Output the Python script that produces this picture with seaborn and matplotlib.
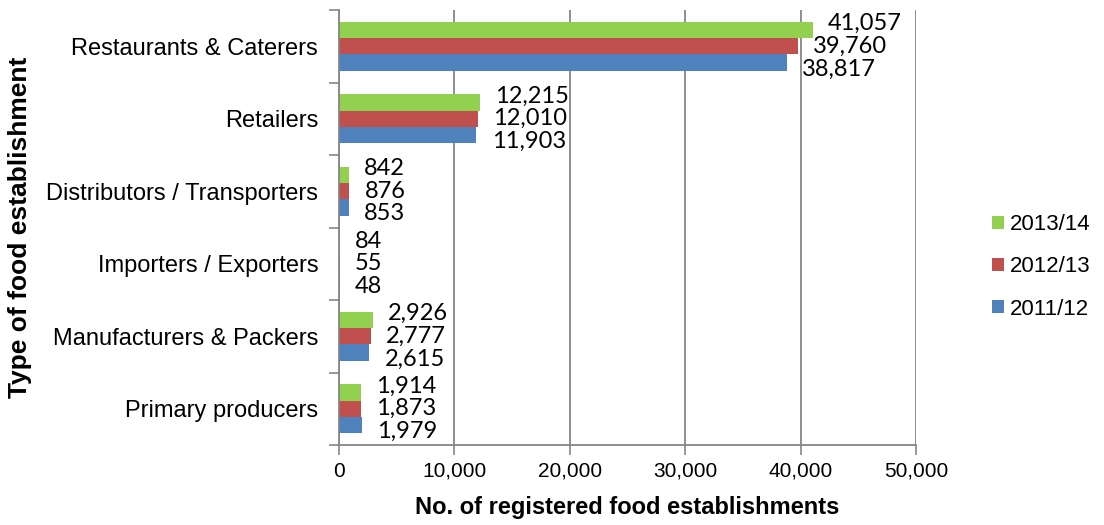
import matplotlib
matplotlib.use("Agg")
import matplotlib.pyplot as plt
import seaborn as sns
import pandas as pd
from matplotlib.ticker import FixedLocator

# data
categories = [
    "Restaurants & Caterers",
    "Retailers",
    "Distributors / Transporters",
    "Importers / Exporters",
    "Manufacturers & Packers",
    "Primary producers",
]
years = ["2013/14", "2012/13", "2011/12"]
y2013_14 = [41057, 12215, 842, 84, 2926, 1914]
y2012_13 = [39760, 12010, 876, 55, 2777, 1873]
y2011_12 = [38817, 11903, 853, 48, 2615, 1979]
xticks = [0, 10000, 20000, 30000, 40000, 50000]

colors = {"2013/14": "#92D050", "2012/13": "#C0504D", "2011/12": "#4F81BD"}

df = pd.DataFrame({
    "type": categories * 3,
    "year": [y for y in years for _ in categories],
    "count": y2013_14 + y2012_13 + y2011_12,
})

sns.set_style("white")
plt.rcParams["font.family"] = ["Liberation Sans", "DejaVu Sans"]
plt.rcParams["text.color"] = "black"
plt.rcParams["axes.labelcolor"] = "black"
grey = "#868686"

fig = plt.figure(figsize=(11.04, 5.25), dpi=100)
ax = fig.add_axes([339 / 1104, 1 - 445 / 525, 577 / 1104, 435 / 525])

sns.barplot(data=df, x="count", y="type", hue="year", hue_order=years,
            order=categories, palette=colors, orient="h", width=0.68,
            ax=ax, saturation=1, linewidth=0)

ax.set_xlim(0, 50000)
ax.set_ylim(5.5, -0.5)
ax.xaxis.set_major_locator(FixedLocator(xticks))
ax.set_xticklabels([f"{t:,}" for t in xticks], fontsize=15)
ax.tick_params(axis="x", length=7, width=1.2, color=grey, labelcolor="black",
               pad=5, bottom=True)
ax.tick_params(axis="y", which="major", length=0, pad=15, labelsize=17,
               labelcolor="black", left=False)
ax.yaxis.set_minor_locator(FixedLocator([i - 0.5 for i in range(len(categories) + 1)]))
ax.tick_params(axis="y", which="minor", length=7, width=1.2, color=grey, left=True)
ax.grid(axis="x", color=grey, linewidth=1.3)
ax.grid(axis="y", visible=False)
ax.set_axisbelow(True)
for s in ["top", "right"]:
    ax.spines[s].set_visible(False)
for s in ["left", "bottom"]:
    ax.spines[s].set_color(grey)
    ax.spines[s].set_linewidth(1.3)

# data labels
offsets = {"2013/14": 4.5, "2012/13": 0, "2011/12": -4.5}
for cont, yr in zip(ax.containers, years):
    vals = df[df["year"] == yr]["count"].tolist()
    for bar, v in zip(cont, vals):
        ax.annotate(f"{v:,}", xy=(bar.get_width(), bar.get_y() + bar.get_height() / 2),
                    xytext=(11, offsets[yr]), textcoords="offset points",
                    ha="left", va="center", fontsize=17, color="black",
                    family=["Lato", "DejaVu Sans"], annotation_clip=False)

ax.set_xlabel("No. of registered food establishments", fontsize=17, fontweight="bold")
ax.set_ylabel("Type of food establishment", fontsize=19, fontweight="bold")
ax.xaxis.set_label_coords(0.5, -0.118)
ax.yaxis.set_label_coords(-0.532, 0.5)

handles, labels = ax.get_legend_handles_labels()
ax.legend(handles, labels, loc="center left", bbox_to_anchor=(992 / 1104, 1 - 267 / 525),
          bbox_transform=fig.transFigure, frameon=False, fontsize=16,
          borderaxespad=0, borderpad=0,
          handlelength=0.55, handleheight=0.55, handletextpad=0.25, labelspacing=0.95)

fig.savefig("out.png", dpi=100)
